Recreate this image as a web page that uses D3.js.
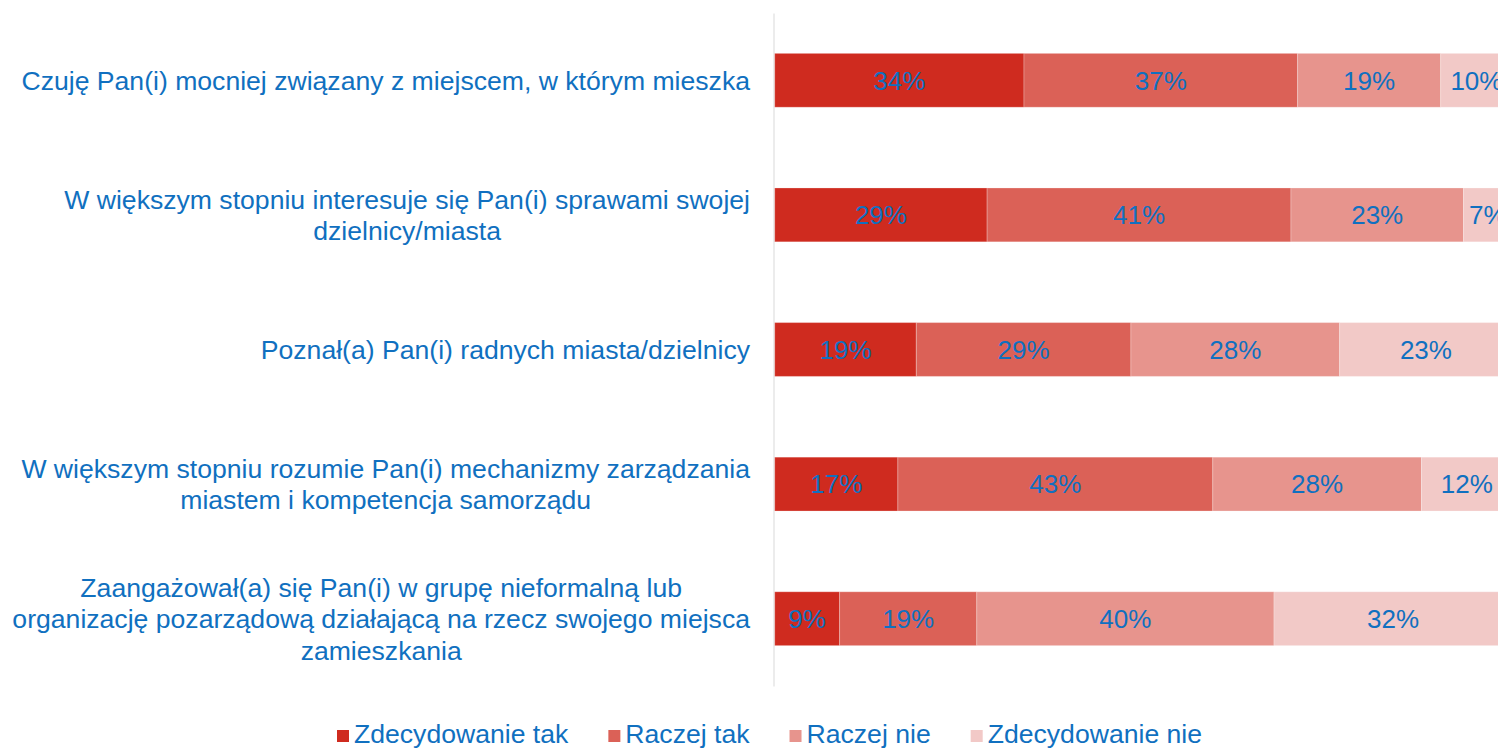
<!DOCTYPE html>
<html>
<head>
<meta charset="utf-8">
<script src="https://cdn.jsdelivr.net/npm/d3@7"></script>
<style>
  html, body { margin: 0; padding: 0; background: #fff; overflow: hidden; }
  svg { display: block; font-family: "Liberation Sans", Arial, sans-serif; }
</style>
</head>
<body>
<div class="chart"></div>
<script>
document.addEventListener("DOMContentLoaded", () => {
  // Category labels, already split into lines like the original
  const categories = [
    ["Czuję Pan(i) mocniej związany z miejscem, w którym mieszka"],
    ["W większym stopniu interesuje się Pan(i) sprawami swojej", "dzielnicy/miasta"],
    ["Poznał(a) Pan(i) radnych miasta/dzielnicy"],
    ["W większym stopniu rozumie Pan(i) mechanizmy zarządzania", "miastem i kompetencja samorządu"],
    ["Zaangażował(a) się Pan(i) w grupę nieformalną lub", "organizację pozarządową działającą na rzecz swojego miejsca", "zamieszkania"]
  ];

  const seriesNames = ["Zdecydowanie tak", "Raczej tak", "Raczej nie", "Zdecydowanie nie"];

  // percentages per category (same order as categories)
  const zdecydowanieTak = [33.8, 28.8, 19.2, 16.7, 8.8];
  const raczejTak = [37.1, 41.2, 29.1, 42.7, 18.6];
  const raczejNie = [19.4, 23.4, 28.3, 28.3, 40.3];
  const zdecydowanieNie = [9.7, 6.6, 23.4, 12.3, 32.3];

  const colors = ["#cf2b1f", "#db6157", "#e7948d", "#f2c9c7"];
  const textBlue = "#1070c0";

  const width = 1498;
  const height = 750;

  const svg = d3.select(".chart")
    .append("svg")
    .attr("width", width)
    .attr("height", height);

  // rows for the stack
  const keys = ["zt", "rt", "rn", "zn"];
  const rows = categories.map((c, i) => ({
    idx: i,
    zt: zdecydowanieTak[i],
    rt: raczejTak[i],
    rn: raczejNie[i],
    zn: zdecydowanieNie[i]
  }));
  const stacked = d3.stack().keys(keys)(rows);

  // plot runs off the right edge, like the reference
  const x = d3.scaleLinear().domain([0, 100]).range([774.7, 1512.2]);
  const y = d3.scaleBand()
    .domain(d3.range(categories.length))
    .range([13, 686])
    .paddingInner(0.6)
    .paddingOuter(0.3);

  // vertical axis line only
  const yAxis = svg.append("g")
    .attr("transform", "translate(773.5,0)")
    .call(d3.axisLeft(y).tickSize(0).tickSizeOuter(0).tickFormat(""));
  yAxis.select(".domain").attr("stroke", "#e6e6e6").attr("stroke-width", 1.5);

  const fmt = d3.format(".0f");

  const layers = svg.append("g")
    .selectAll("g")
    .data(stacked)
    .join("g")
    .attr("fill", (d, i) => colors[i]);

  layers.selectAll("rect")
    .data(d => d)
    .join("rect")
    .attr("x", d => x(d[0]))
    .attr("y", d => y(d.data.idx))
    .attr("width", d => x(d[1]) - x(d[0]))
    .attr("height", y.bandwidth())
    .attr("stroke", "#fff")
    .attr("stroke-opacity", 0.25)
    .attr("stroke-width", 1);

  layers.selectAll("text")
    .data(d => d)
    .join("text")
    .attr("x", d => (x(d[0]) + x(d[1])) / 2)
    .attr("y", d => y(d.data.idx) + y.bandwidth() / 2)
    .attr("dy", "0.36em")
    .attr("text-anchor", "middle")
    .attr("fill", textBlue)
    .style("font-size", "26px")
    .text(d => fmt(d[1] - d[0]) + "%");

  // Category labels: block right-aligned, lines centred within block
  const lineH = 31.5;
  const labelRight = 750;
  categories.forEach((lines, i) => {
    const cy = y(i) + y.bandwidth() / 2;
    const t = svg.append("text")
      .attr("text-anchor", "middle")
      .attr("fill", textBlue)
      .style("font-size", "26.6px");
    lines.forEach((ln, j) => {
      t.append("tspan")
        .attr("y", cy + (j - (lines.length - 1) / 2) * lineH)
        .attr("dy", "0.36em")
        .text(ln);
    });
    let maxW = 0;
    t.selectAll("tspan").each(function () {
      maxW = Math.max(maxW, this.getComputedTextLength());
    });
    t.selectAll("tspan").attr("x", labelRight - maxW / 2);
  });

  // Legend (text nudged up a bit so descenders stay inside)
  const legend = svg.append("g").attr("transform", "translate(337,736)");
  let lx = 0;
  seriesNames.forEach((name, i) => {
    const g = legend.append("g").attr("transform", `translate(${lx},0)`);
    g.append("rect")
      .attr("x", 0)
      .attr("y", -6)
      .attr("width", 12)
      .attr("height", 12)
      .attr("fill", colors[i]);
    const t = g.append("text")
      .attr("x", 17)
      .attr("dy", "0.25em")
      .attr("fill", textBlue)
      .style("font-size", "26.6px")
      .text(name);
    lx += 17 + t.node().getComputedTextLength() + 40;
  });
});
</script>
</body>
</html>
